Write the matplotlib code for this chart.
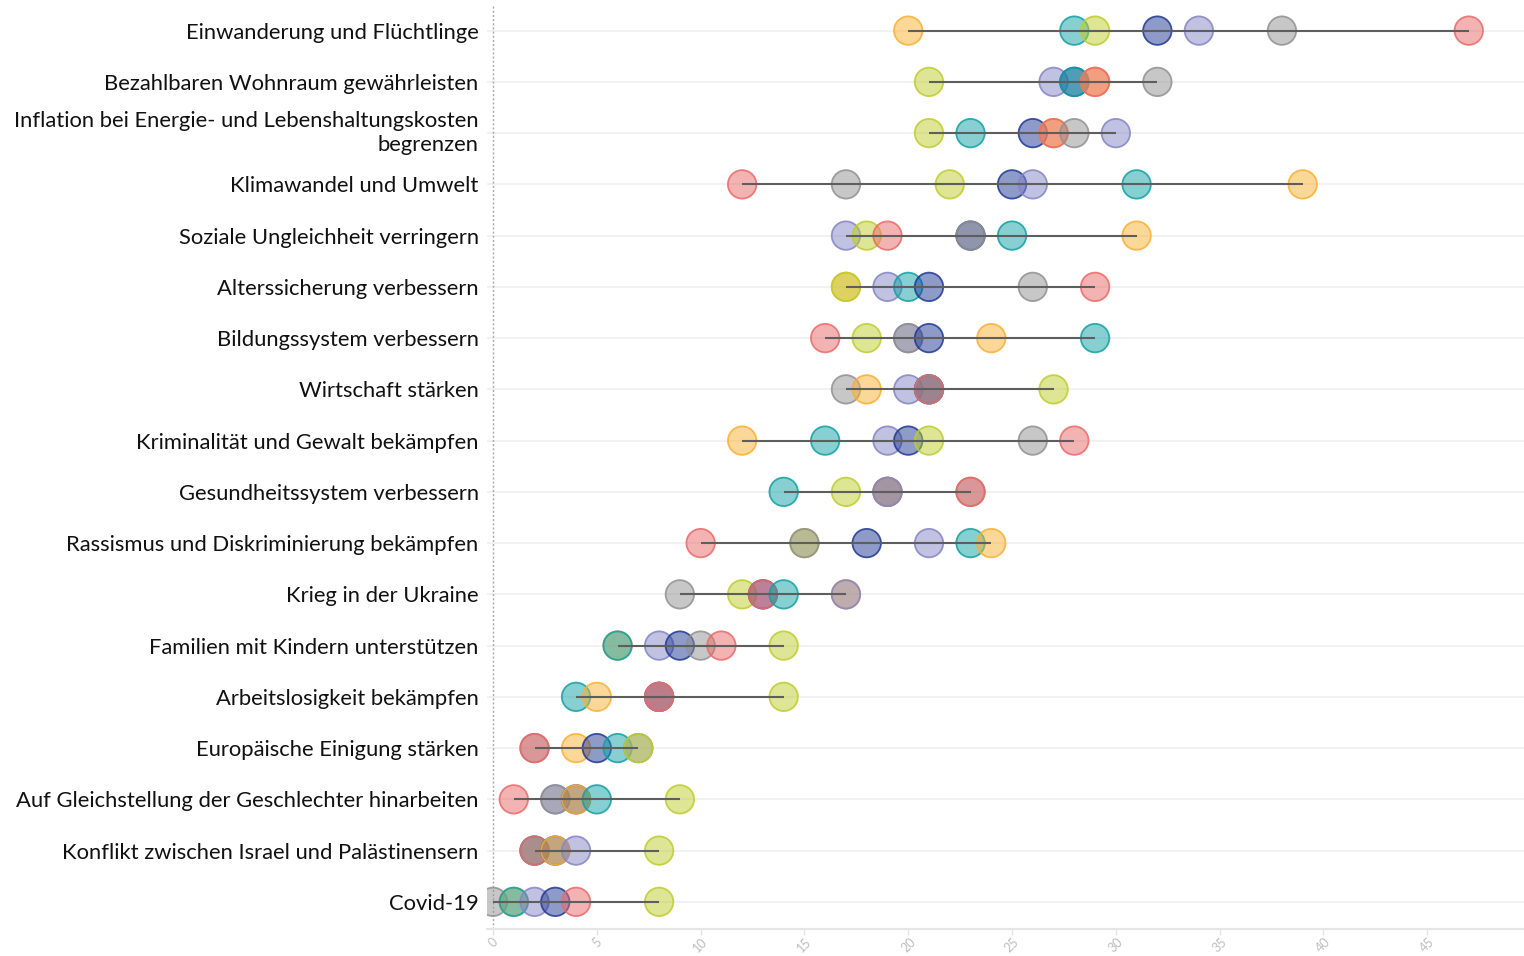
import numpy as np
import matplotlib
matplotlib.use('Agg')
import matplotlib.pyplot as plt

plt.rcParams['font.family'] = ['Lato', 'DejaVu Sans']

themen = ['Einwanderung und Flüchtlinge',
          'Bezahlbaren Wohnraum gewährleisten',
          'Inflation bei Energie- und Lebenshaltungskosten\nbegrenzen',
          'Klimawandel und Umwelt',
          'Soziale Ungleichheit verringern',
          'Alterssicherung verbessern',
          'Bildungssystem verbessern',
          'Wirtschaft stärken',
          'Kriminalität und Gewalt bekämpfen',
          'Gesundheitssystem verbessern',
          'Rassismus und Diskriminierung bekämpfen',
          'Krieg in der Ukraine',
          'Familien mit Kindern unterstützen',
          'Arbeitslosigkeit bekämpfen',
          'Europäische Einigung stärken',
          'Auf Gleichstellung der Geschlechter hinarbeiten',
          'Konflikt zwischen Israel und Palästinensern',
          'Covid-19']

# Werte je Gruppe (in Prozent), Reihenfolge wie themen
blau    = [32, 28, 26, 25, 23, 21, 21, 21, 20, 19, 18, 13, 9, 8, 5, 4, 3, 3]
gelb    = [20, 29, 27, 39, 31, 17, 24, 18, 12, 19, 24, 17, 6, 5, 4, 4, 3, 1]
lila    = [34, 27, 30, 26, 17, 19, 20, 20, 19, 19, 21, 17, 8, 8, 7, 3, 4, 2]
gruen   = [29, 21, 21, 22, 18, 17, 18, 27, 21, 17, 15, 12, 14, 14, 7, 9, 8, 8]
grau    = [38, 32, 28, 17, 23, 26, 20, 17, 26, 23, 15, 9, 10, 8, 2, 3, 2, 0]
tuerkis = [28, 28, 23, 31, 25, 20, 29, 21, 16, 14, 23, 14, 6, 4, 6, 5, 2, 1]
rot     = [47, 29, 27, 12, 19, 29, 16, 21, 28, 23, 10, 13, 11, 8, 2, 1, 2, 4]

gruppen = [blau, gelb, lila, gruen, grau, tuerkis, rot]
farben = ['#1f3993', '#f9b133', '#8585c5', '#bfcd2d', '#919191', '#11a1a5', '#eb6969']

W, H = 1524, 956
fig = plt.figure(figsize=(W / 100, H / 100), dpi=100)
ax = fig.add_axes([487 / W, 1 - 929 / H, (W - 487) / W, (929 - 5) / H])

n = len(themen)
ypos = np.arange(n)

# Punkte: kleinere Werte zuerst zeichnen, damit grössere oben liegen
xs, ys, fc, ec, order = [], [], [], [], []
for gi, werte in enumerate(gruppen):
    for ri, v in enumerate(werte):
        xs.append(v)
        ys.append(ri)
        fc.append(matplotlib.colors.to_rgba(farben[gi], 0.5))
        ec.append(matplotlib.colors.to_rgba(farben[gi], 0.85))
        order.append(v + gi * 0.01)
idx = np.argsort(order)
ax.scatter(np.array(xs)[idx], np.array(ys)[idx], s=420,
           facecolors=[fc[i] for i in idx], edgecolors=[ec[i] for i in idx],
           linewidths=1.3, zorder=3)

# Linie von Minimum bis Maximum
alle = np.array(gruppen)
ax.hlines(ypos, alle.min(axis=0), alle.max(axis=0), color='#5e5e5e', lw=1.5, zorder=4)

for y in ypos:
    ax.axhline(y, color='#ededed', lw=1.1, zorder=0)
ax.axvline(0, color='#aaaaaa', lw=1, ls=(0, (1.5, 1.5)), zorder=1)

ax.set_xlim(-0.29, 49.66)
ax.set_ylim(17.53, -0.5)
ax.set_xticks(np.arange(0, 50, 5))
ax.set_xticklabels([str(t) for t in range(0, 50, 5)], rotation=45, ha='center',
                   color='#bdbdbd', fontsize=9)
ax.tick_params(axis='x', length=4, color='#e3e3e3', width=1, pad=1)
ax.set_yticks(ypos)
ax.set_yticklabels(themen, fontsize=15.8, color='#111111', ha='right',
                   linespacing=1.25)
ax.tick_params(axis='y', length=0, pad=6)
for lab in ax.get_yticklabels():
    if '\n' in lab.get_text():
        lab.set_va('center')

for s in ['top', 'right', 'left']:
    ax.spines[s].set_visible(False)
ax.spines['bottom'].set_color('#e5e5e5')
ax.spines['bottom'].set_linewidth(1.5)

fig.savefig('out.png', dpi=100)
